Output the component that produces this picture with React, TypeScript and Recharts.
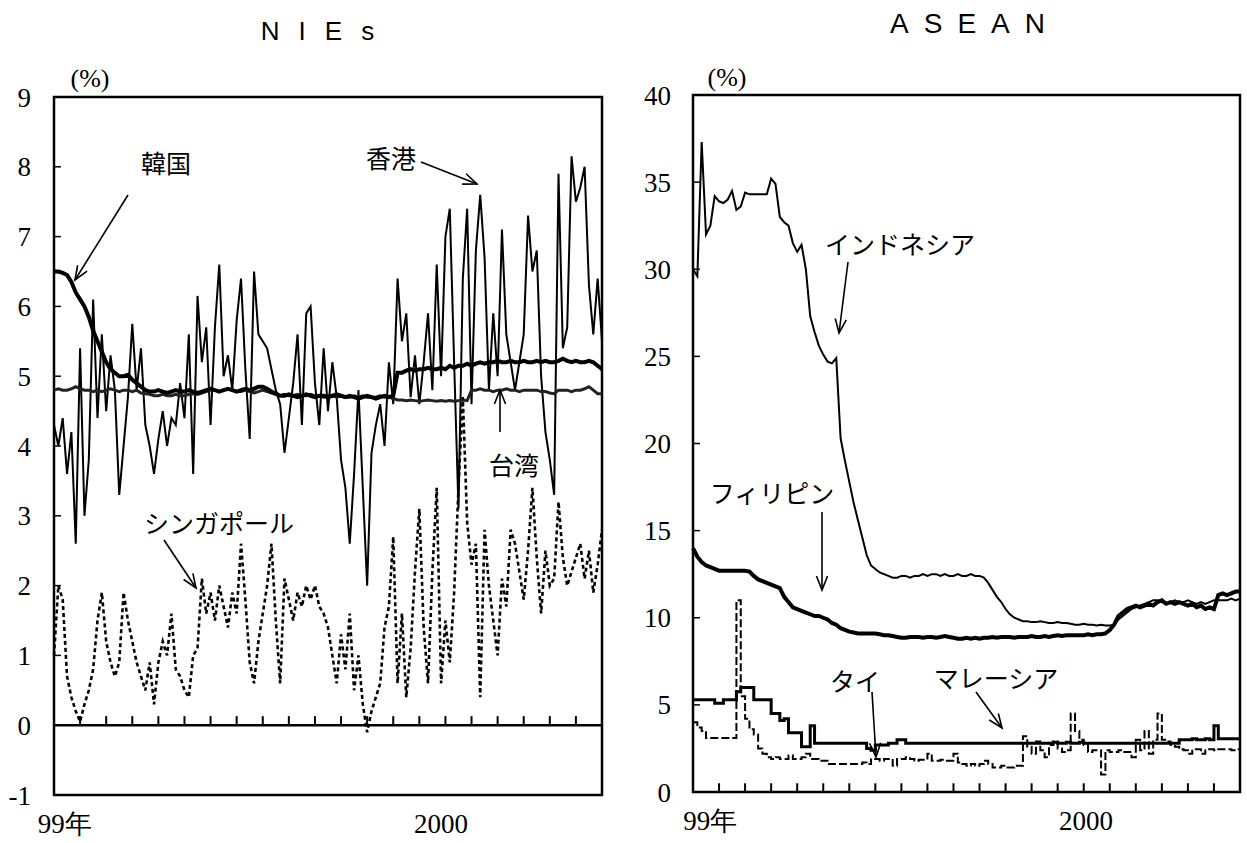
import React from 'react';
import { LineChart, Line, XAxis, YAxis, ReferenceLine, ReferenceArea } from 'recharts';

// NIEs panel, one value per ~5 days (index 0..126)
const hongKong = [
  4.3, 4.0, 4.4, 3.6, 4.2, 2.6, 5.4, 3.0, 3.8, 6.1,
  4.4, 5.6, 4.5, 5.3, 4.8, 3.3, 4.0, 4.7, 5.75, 4.8,
  5.4, 4.3, 4.0, 3.6, 4.1, 4.5, 4.0, 4.4, 4.3, 4.9,
  4.4, 5.6, 3.6, 6.15, 5.2, 5.7, 4.3, 5.7, 6.6, 5.0,
  5.3, 4.8, 5.8, 6.4, 5.1, 4.1, 6.5, 5.6, 5.5, 5.4,
  5.1, 4.8, 4.6, 3.9, 4.4, 4.9, 5.6, 4.3, 5.9, 6.0,
  4.9, 4.3, 5.4, 4.5, 5.2, 4.7, 3.8, 3.4, 2.6, 3.6,
  4.8, 3.4, 2.0, 3.9, 4.3, 4.6, 4.0, 5.2, 4.6, 6.4,
  5.5, 5.9, 4.7, 5.3, 4.6, 5.2, 5.9, 4.8, 6.6, 5.0,
  7.0, 7.4, 5.2, 3.1, 6.4, 7.4, 4.6, 6.8, 7.6, 6.7,
  4.8, 5.9, 5.0, 7.1, 5.6, 5.2, 4.8, 5.2, 5.6, 7.3,
  6.5, 6.8, 5.0, 4.2, 3.8, 3.3, 7.9, 5.4, 5.7, 8.15,
  7.5, 7.7, 8.0, 6.3, 5.6, 6.4, 5.5,
];

const korea = [
  6.5, 6.5, 6.48, 6.45, 6.35, 6.2, 6.1, 6.0, 5.85, 5.65,
  5.5, 5.35, 5.2, 5.1, 5.05, 5.0, 5.0, 5.02, 4.95, 4.9,
  4.85, 4.8, 4.78, 4.78, 4.8, 4.78, 4.76, 4.78, 4.8, 4.78,
  4.78, 4.8, 4.78, 4.76, 4.78, 4.8, 4.82, 4.8, 4.78, 4.8,
  4.82, 4.8, 4.78, 4.8, 4.82, 4.8, 4.82, 4.85, 4.85, 4.82,
  4.78, 4.75, 4.72, 4.72, 4.74, 4.72, 4.7, 4.72, 4.74, 4.72,
  4.7, 4.72, 4.72, 4.7, 4.72, 4.74, 4.72, 4.7, 4.72, 4.7,
  4.68, 4.7, 4.72, 4.7, 4.68, 4.7, 4.72, 4.7, 4.72, 5.05,
  5.05, 5.08, 5.1, 5.08, 5.1, 5.1, 5.12, 5.1, 5.1, 5.12,
  5.1, 5.15, 5.12, 5.15, 5.15, 5.18, 5.15, 5.18, 5.2, 5.18,
  5.2, 5.2, 5.22, 5.2, 5.2, 5.22, 5.2, 5.2, 5.22, 5.2,
  5.2, 5.22, 5.2, 5.22, 5.2, 5.2, 5.22, 5.25, 5.22, 5.2,
  5.22, 5.2, 5.2, 5.22, 5.2, 5.15, 5.1,
];

const taiwan = [
  4.8, 4.82, 4.8, 4.8, 4.82, 4.85, 4.82, 4.8, 4.8, 4.78,
  4.8, 4.78, 4.8, 4.82, 4.8, 4.78, 4.8, 4.8, 4.78, 4.8,
  4.76, 4.75, 4.74, 4.72, 4.72, 4.74, 4.72, 4.72, 4.74, 4.72,
  4.72, 4.74, 4.75, 4.74, 4.76, 4.78, 4.8, 4.8, 4.78, 4.8,
  4.82, 4.8, 4.78, 4.78, 4.8, 4.78, 4.76, 4.78, 4.8, 4.78,
  4.76, 4.74, 4.72, 4.74, 4.72, 4.72, 4.74, 4.72, 4.72, 4.74,
  4.72, 4.72, 4.7, 4.72, 4.72, 4.7, 4.72, 4.7, 4.7, 4.72,
  4.7, 4.72, 4.7, 4.7, 4.7, 4.72, 4.7, 4.7, 4.68, 4.66,
  4.66, 4.65, 4.66, 4.65, 4.64, 4.65, 4.66, 4.65, 4.64, 4.65,
  4.64, 4.65, 4.64, 4.65, 4.66, 4.65, 4.8, 4.8, 4.82, 4.8,
  4.8, 4.78, 4.8, 4.8, 4.82, 4.8, 4.8, 4.78, 4.8, 4.8,
  4.8, 4.8, 4.78, 4.78, 4.76, 4.75, 4.8, 4.8, 4.8, 4.78,
  4.8, 4.8, 4.82, 4.85, 4.8, 4.75, 4.75,
];

const singapore = [
  1.0, 2.0, 1.8, 0.7, 0.4, 0.2, 0.05, 0.3, 0.5, 0.8,
  1.5, 1.9, 1.2, 0.9, 0.7, 0.9, 1.9, 1.5, 1.2, 0.9,
  0.7, 0.5, 0.9, 0.3, 0.9, 1.2, 1.0, 1.6, 0.8, 0.7,
  0.5, 0.4, 1.0, 1.1, 2.1, 1.6, 1.9, 1.5, 2.0, 1.7,
  1.4, 1.9, 1.6, 2.6, 1.8, 0.9, 0.6, 1.2, 1.6, 2.0,
  2.6, 1.5, 0.6, 2.1, 1.8, 1.5, 1.9, 1.7, 2.0, 1.8,
  2.0, 1.7, 1.6, 1.4, 1.0, 0.6, 1.3, 0.8, 1.6, 0.5,
  1.0, 0.3, -0.1, 0.2, 0.4, 0.6, 1.4, 1.7, 2.7, 0.6,
  1.6, 0.4, 1.1, 2.2, 3.1, 1.4, 0.6, 2.2, 3.4, 0.6,
  1.5, 0.9, 1.9, 3.4, 4.7, 2.9, 2.3, 2.6, 0.4, 2.8,
  2.0, 1.5, 1.0, 2.1, 1.7, 2.8, 2.6, 2.2, 1.8, 2.5,
  3.4, 2.4, 1.6, 2.5, 2.0, 2.1, 3.2, 2.4, 2.0, 2.2,
  2.4, 2.6, 2.1, 2.5, 1.9, 2.3, 2.8,
];

// ASEAN panel
const indonesia = [
  30.0, 29.6, 37.3, 32.0, 32.5, 34.2, 33.9, 33.8, 34.0, 34.5,
  33.4, 33.6, 34.4, 34.3, 34.3, 34.3, 34.3, 34.3, 35.2, 34.9,
  33.0, 32.7, 32.5, 31.5, 31.0, 31.4, 30.0, 27.3, 26.4, 25.6,
  25.1, 24.7, 24.6, 24.9, 20.3, 19.0, 17.8, 16.6, 15.6, 14.6,
  13.6, 13.0, 12.8, 12.6, 12.5, 12.4, 12.3, 12.3, 12.4, 12.4,
  12.3, 12.4, 12.4, 12.5, 12.4, 12.5, 12.5, 12.4, 12.5, 12.4,
  12.4, 12.5, 12.4, 12.4, 12.5, 12.4, 12.4, 12.3, 12.0, 11.6,
  11.2, 10.9, 10.5, 10.2, 10.0, 9.9, 9.8, 9.8, 9.75, 9.75,
  9.8, 9.75, 9.7, 9.7, 9.75, 9.7, 9.7, 9.65, 9.6, 9.6,
  9.65, 9.6, 9.6, 9.55, 9.6, 9.55, 9.55, 9.6, 9.9, 10.1,
  10.3, 10.5, 10.6, 10.7, 10.8, 10.9, 11.0, 11.0, 10.9, 10.8,
  10.9, 11.0, 10.9, 10.9, 11.0, 10.9, 10.8, 10.9, 10.8, 10.9,
  11.0, 11.0, 11.0, 11.0, 11.1, 11.0, 11.1,
];

const philippines = [
  14.0, 13.5, 13.2, 13.0, 12.9, 12.8, 12.7, 12.7, 12.7, 12.7,
  12.7, 12.7, 12.7, 12.65, 12.4, 12.2, 12.1, 12.0, 11.9, 11.8,
  11.7, 11.2, 10.9, 10.6, 10.5, 10.4, 10.3, 10.2, 10.1, 10.1,
  10.0, 9.9, 9.7, 9.6, 9.4, 9.3, 9.2, 9.15, 9.1, 9.1,
  9.1, 9.1, 9.1, 9.05, 9.0, 9.0, 8.95, 8.9, 8.85, 8.85,
  8.9, 8.9, 8.9, 8.85, 8.9, 8.9, 8.85, 8.9, 8.95, 8.9,
  8.85, 8.8, 8.8, 8.85, 8.8, 8.85, 8.8, 8.85, 8.85, 8.9,
  8.85, 8.9, 8.9, 8.9, 8.85, 8.9, 8.9, 8.9, 8.95, 8.9,
  8.9, 8.95, 8.9, 8.95, 9.0, 8.95, 9.0, 9.0, 9.0, 9.0,
  9.0, 9.05, 9.0, 9.05, 9.05, 9.1, 9.3, 9.6, 10.1, 10.3,
  10.5, 10.6, 10.7, 10.6, 10.7, 10.8, 10.7, 10.9, 11.0, 10.8,
  10.9, 10.8, 10.9, 10.8, 10.7, 10.8, 10.6, 10.7, 10.5, 10.6,
  10.5, 11.3, 11.4, 11.3, 11.4, 11.5, 11.5,
];

const malaysia = [
  5.3, 5.3, 5.3, 5.3, 5.3, 5.1, 5.1, 5.3, 5.3, 5.3,
  5.75, 6.0, 6.0, 6.0, 5.3, 5.3, 5.3, 5.3, 4.5, 4.5,
  4.1, 4.2, 3.4, 3.4, 3.4, 2.6, 2.6, 3.8, 2.8, 2.8,
  2.8, 2.8, 2.8, 2.8, 2.8, 2.8, 2.8, 2.8, 2.8, 2.8,
  2.5, 2.4, 2.7, 2.7, 2.7, 2.8, 2.8, 3.0, 3.0, 2.8,
  2.8, 2.8, 2.8, 2.8, 2.8, 2.8, 2.8, 2.8, 2.8, 2.8,
  2.8, 2.8, 2.8, 2.8, 2.8, 2.8, 2.8, 2.8, 2.8, 2.8,
  2.8, 2.8, 2.8, 2.8, 2.8, 2.8, 2.8, 2.8, 2.8, 2.8,
  2.8, 2.8, 2.8, 2.85, 2.8, 2.8, 2.85, 2.8, 2.8, 2.85,
  2.8, 2.8, 2.8, 2.8, 2.8, 2.8, 2.8, 2.8, 2.8, 2.8,
  2.8, 2.8, 2.8, 2.8, 2.8, 2.8, 2.8, 2.8, 2.8, 2.8,
  2.8, 2.8, 3.0, 3.0, 3.0, 3.05, 3.0, 3.0, 3.05, 3.0,
  3.8, 3.05, 3.05, 3.05, 3.05, 3.05, 3.05,
];

const thailand = [
  4.0, 3.7, 3.5, 3.1, 3.1, 3.1, 3.1, 3.1, 3.1, 3.1,
  11.0, 5.5, 4.2, 3.6, 3.3, 2.5, 2.2, 2.0,
  1.9, 2.0, 1.9, 1.9, 2.1, 1.9, 1.9, 2.0, 2.2, 1.9, 1.9, 1.8, 1.8,
  1.6, 1.6, 1.6, 1.6, 1.6, 1.6, 1.6, 1.6, 1.7, 1.6,
  1.9, 1.9, 1.8, 1.9, 1.9, 1.5, 1.9, 1.9, 2.0, 1.9,
  1.8, 1.85, 1.85, 2.2, 1.8, 1.8, 1.85, 1.8, 1.8, 2.2,
  1.7, 1.6, 1.5, 1.6, 1.5, 1.6, 1.8, 1.6, 1.4, 1.4, 1.5, 1.4, 1.4, 1.5, 1.5,
  3.2, 2.6, 2.2, 2.9, 2.4, 2.0, 2.7, 2.9, 2.5,
  2.3, 2.4,
  4.5, 3.5, 3.0, 2.7, 2.3, 2.4,
  2.4, 1.0, 2.4, 2.3, 2.3, 2.4, 2.3, 2.3,
  2.0, 3.0, 2.4, 3.5, 2.2, 3.0, 4.5,
  3.0, 2.9, 2.7, 2.6,
  2.45, 2.4, 2.2, 2.45, 2.45, 2.2, 2.45, 2.45, 2.4, 2.45, 2.45, 2.45, 2.4, 2.45, 2.45,
];

const niesYTicks = [-1, 0, 1, 2, 3, 4, 5, 6, 7, 8, 9];
const aseanYTicks = [0, 5, 10, 15, 20, 25, 30, 35, 40];
const monthTicks = [6, 12, 18, 24, 30, 36, 42, 48, 54, 60, 66, 72, 78, 84, 90, 96, 102, 108, 114, 120, 126];
const niesYearTicks = [2.5, 89];
const aseanYearTicks = [4, 90.5];
const yearLabel = (v: number) => (v < 50 ? '99年' : '2000');

const niesData = hongKong.map((v, i) => ({
  i,
  hongKong: v,
  korea: korea[i],
  taiwan: taiwan[i],
  singapore: singapore[i],
}));

const aseanData = indonesia.map((v, i) => ({
  i,
  indonesia: v,
  philippines: philippines[i],
  malaysia: malaysia[i],
  thailand: thailand[i],
}));

const SERIF = '"Liberation Serif", "Times New Roman", Tinos, "DejaVu Serif", "Noto Serif", serif';
const serifTick = { fill: '#000', fontSize: 27, fontFamily: SERIF };

const notes = [
  { text: '韓国', x: 166, y: 162, a: [128, 195, 75, 280] },
  { text: '香港', x: 391, y: 157, a: [421, 162, 477, 184] },
  { text: '台湾', x: 514, y: 464, a: [500, 432, 500, 390] },
  { text: 'シンガポール', x: 219, y: 522, a: [164, 540, 196, 588] },
  { text: 'インドネシア', x: 900, y: 243, a: [848, 262, 839, 333] },
  { text: 'フィリピン', x: 772, y: 492, a: [822, 512, 822, 590] },
  { text: 'タイ', x: 855, y: 680, a: [872, 692, 876, 757] },
  { text: 'マレーシア', x: 996, y: 677, a: [976, 692, 1002, 728] },
];

function Arrow({ a }: { a: number[] }) {
  const [x1, y1, x2, y2] = a;
  const ang = Math.atan2(y2 - y1, x2 - x1);
  const len = 15;
  const spread = 0.38;
  const h1 = [x2 - len * Math.cos(ang - spread), y2 - len * Math.sin(ang - spread)];
  const h2 = [x2 - len * Math.cos(ang + spread), y2 - len * Math.sin(ang + spread)];
  return (
    <g stroke="#000" strokeWidth={1.6} fill="none">
      <line x1={x1} y1={y1} x2={x2} y2={y2} />
      <polyline points={`${h1[0]},${h1[1]} ${x2},${y2} ${h2[0]},${h2[1]}`} />
    </g>
  );
}

export default function App() {
  return (
    <div style={{ position: 'absolute', left: 0, top: 0, width: 1247, height: 843, background: '#fff', overflow: 'hidden' }}>
      <div style={{ position: 'absolute', left: 0, top: 0 }}>
        <LineChart width={620} height={843} data={niesData} margin={{ top: 97, right: 18, left: 0, bottom: 8 }}>
          <XAxis dataKey="i" type="number" domain={[0, 126]} ticks={niesYearTicks} tickFormatter={yearLabel}
            axisLine={false} tickLine={false} tickSize={0} tickMargin={19} height={40} interval={0} tick={serifTick} />
          <YAxis type="number" domain={[-1, 9]} ticks={niesYTicks} axisLine={false} tickLine={false}
            tickSize={0} tickMargin={23} width={54} interval={0} tick={serifTick} />
          {niesYTicks.map((v) => (
            <ReferenceLine key={'y' + v} segment={[{ x: 0, y: v }, { x: 1.6, y: v }]} stroke="#000" strokeWidth={1.5} />
          ))}
          <ReferenceLine y={0} stroke="#000" strokeWidth={2.5} />
          {monthTicks.map((m) => (
            <ReferenceLine key={'m' + m} segment={[{ x: m, y: 0 }, { x: m, y: 0.13 }]} stroke="#000" strokeWidth={2} />
          ))}
          <Line dataKey="hongKong" type="linear" stroke="#000" strokeWidth={2} dot={false} isAnimationActive={false} />
          <Line dataKey="taiwan" type="linear" stroke="#222" strokeWidth={3} dot={false} isAnimationActive={false} />
          <Line dataKey="korea" type="linear" stroke="#000" strokeWidth={4} dot={false} isAnimationActive={false} />
          <Line dataKey="singapore" type="linear" stroke="#000" strokeWidth={2.6} strokeDasharray="4 3" dot={false} isAnimationActive={false} />
          <ReferenceArea x1={0} x2={126} y1={-1} y2={9} fill="none" fillOpacity={0} stroke="#000" strokeWidth={2.5} />
        </LineChart>
      </div>

      <div style={{ position: 'absolute', left: 620, top: 0 }}>
        <LineChart width={627} height={843} data={aseanData} margin={{ top: 95, right: 7, left: 0, bottom: 8 }}>
          <XAxis dataKey="i" type="number" domain={[0, 126]} ticks={aseanYearTicks} tickFormatter={yearLabel}
            axisLine={false} tickLine={false} tickSize={0} tickMargin={19} height={43} interval={0} tick={serifTick} />
          <YAxis type="number" domain={[0, 40]} ticks={aseanYTicks} axisLine={false} tickLine={false}
            tickSize={0} tickMargin={22} width={73} interval={0} tick={serifTick} />
          {aseanYTicks.map((v) => (
            <ReferenceLine key={'y' + v} segment={[{ x: 0, y: v }, { x: 1.6, y: v }]} stroke="#000" strokeWidth={1.5} />
          ))}
          {monthTicks.slice(0, 20).map((m) => (
            <ReferenceLine key={'m' + m} segment={[{ x: m, y: 0 }, { x: m, y: 0.5 }]} stroke="#000" strokeWidth={2} />
          ))}
          <Line dataKey="indonesia" type="linear" stroke="#000" strokeWidth={2} dot={false} isAnimationActive={false} />
          <Line dataKey="philippines" type="linear" stroke="#000" strokeWidth={4} dot={false} isAnimationActive={false} />
          <Line dataKey="thailand" type="stepAfter" stroke="#000" strokeWidth={2} strokeDasharray="8 3" dot={false} isAnimationActive={false} />
          <Line dataKey="malaysia" type="stepAfter" stroke="#000" strokeWidth={3} dot={false} isAnimationActive={false} />
          <ReferenceArea x1={0} x2={126} y1={0} y2={40} fill="none" fillOpacity={0} stroke="#000" strokeWidth={2.5} />
        </LineChart>
      </div>

      <svg width={1247} height={843} style={{ position: 'absolute', left: 0, top: 0, pointerEvents: 'none' }}>
        <text x={327} y={31} textAnchor="middle" dominantBaseline="central"
          style={{ fontFamily: '"Liberation Sans", Arial, sans-serif', fontSize: 26, letterSpacing: 19 }}>NIEs</text>
        <text x={975} y={23} textAnchor="middle" dominantBaseline="central"
          style={{ fontFamily: '"Liberation Sans", Arial, sans-serif', fontSize: 28, letterSpacing: 15 }}>ASEAN</text>
        <text x={90} y={78} textAnchor="middle" dominantBaseline="central"
          style={{ fontFamily: SERIF, fontSize: 26 }}>(%)</text>
        <text x={727} y={77} textAnchor="middle" dominantBaseline="central"
          style={{ fontFamily: SERIF, fontSize: 26 }}>(%)</text>
        {notes.map((n) => (
          <g key={n.text}>
            <text x={n.x} y={n.y} textAnchor="middle" dominantBaseline="central"
              style={{ fontFamily: '"Noto Sans CJK JP", sans-serif', fontSize: 25 }}>{n.text}</text>
            <Arrow a={n.a} />
          </g>
        ))}
      </svg>
    </div>
  );
}
